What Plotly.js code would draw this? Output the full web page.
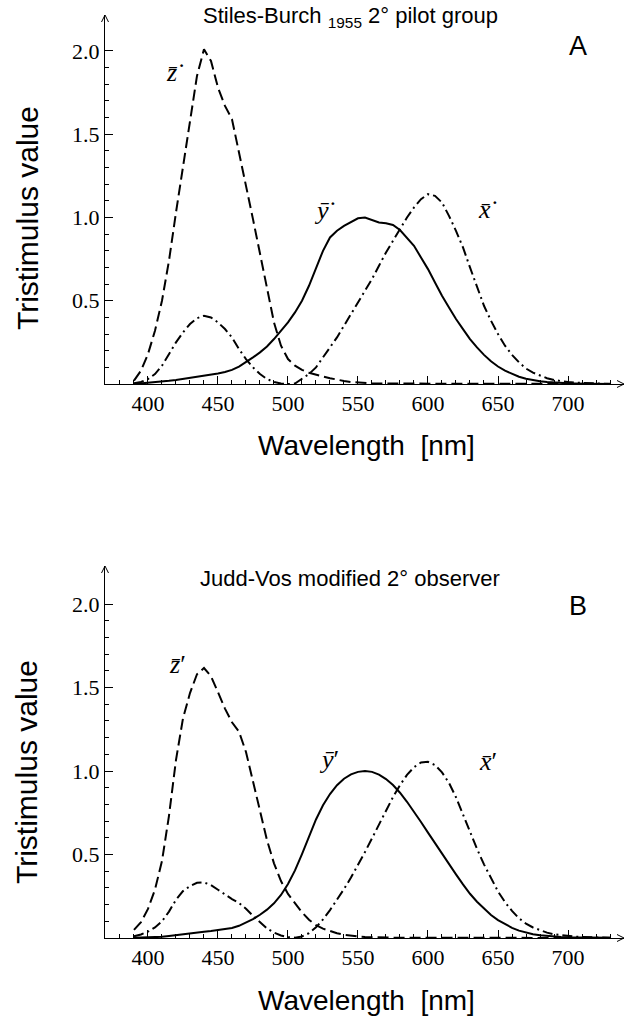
<!DOCTYPE html>
<html>
<head>
<meta charset="utf-8">
<script src="https://cdn.plot.ly/plotly-3.0.1.min.js"></script>
<style>html,body{margin:0;padding:0;background:#fff;}</style>
</head>
<body>
<div id="chart" style="width:629px;height:1025px;"></div>
<script>
// Wavelength grid (nm)
const wavelength = [390,395,400,405,410,415,420,425,430,435,440,445,450,455,460,465,470,475,480,485,490,495,500,
  505,510,515,520,525,530,535,540,545,550,555,560,565,570,575,580,585,590,595,600,605,610,615,620,625,630,635,640,
  645,650,655,660,665,670,675,680,685,690,695,700,705,710,715,720,725,730];

// Panel A: Stiles-Burch 1955 2° pilot group
const sbX = [0.005,0.012,0.03,0.06,0.11,0.18,0.25,0.31,0.36,0.395,0.41,0.40,0.37,0.33,0.28,0.21,0.15,0.10,0.06,0.03,0.012,0.003,0.0,
  0.003,0.03,0.06,0.10,0.16,0.22,0.28,0.35,0.42,0.49,0.56,0.63,0.71,0.79,0.86,0.93,1.0,1.06,1.11,1.14,1.13,1.09,1.01,0.92,0.82,0.70,0.58,0.47,
  0.38,0.30,0.23,0.175,0.13,0.093,0.068,0.05,0.035,0.024,0.017,0.012,0.008,0.006,0.004,0.003,0.002,0.001];
const sbY = [0.0,0.003,0.006,0.01,0.014,0.019,0.024,0.03,0.036,0.042,0.048,0.055,0.063,0.072,0.085,0.105,0.13,0.16,0.19,0.225,0.27,0.32,0.37,
  0.43,0.50,0.59,0.69,0.80,0.88,0.92,0.95,0.975,0.995,1.0,0.985,0.97,0.965,0.955,0.925,0.88,0.83,0.76,0.69,0.61,0.53,0.46,0.39,0.33,0.27,0.22,0.175,
  0.137,0.105,0.08,0.06,0.044,0.032,0.023,0.017,0.012,0.008,0.006,0.004,0.003,0.002,0.0015,0.001,0.0007,0.0005];
const sbZ = [0.02,0.08,0.18,0.32,0.50,0.74,1.03,1.31,1.59,1.85,2.01,1.94,1.78,1.67,1.59,1.40,1.19,0.99,0.78,0.57,0.37,0.23,0.15,
  0.11,0.085,0.068,0.055,0.045,0.035,0.025,0.018,0.012,0.008,0.006,0.004,0.003,0.003,0.002,0.002,0.001,0.001,0,0,0,0,0,0,0,0,0,0,
  0,0,0,0,0,0,0,0,0,0,0,0,0,0,0,0,0,0];

// Panel B: Judd-Vos modified 2° observer
const jvX = [0.011,0.021,0.038,0.063,0.100,0.158,0.229,0.281,0.311,0.331,0.333,0.317,0.289,0.260,0.233,0.210,0.175,0.133,0.092,0.057,0.032,0.015,0.005,
  0.002,0.009,0.029,0.064,0.111,0.167,0.228,0.293,0.362,0.436,0.515,0.597,0.681,0.764,0.844,0.916,0.977,1.023,1.051,1.055,1.036,0.992,0.929,0.843,0.740,0.633,0.534,0.441,
  0.355,0.279,0.215,0.162,0.118,0.086,0.063,0.046,0.032,0.022,0.016,0.011,0.008,0.006,0.004,0.003,0.002,0.001];
const jvY = [0.001,0.002,0.003,0.005,0.007,0.012,0.018,0.023,0.027,0.033,0.038,0.042,0.047,0.052,0.060,0.073,0.091,0.113,0.139,0.170,0.208,0.258,0.323,
  0.405,0.503,0.608,0.710,0.795,0.862,0.915,0.954,0.980,0.995,1.000,0.995,0.979,0.952,0.916,0.870,0.816,0.757,0.695,0.631,0.567,0.503,0.442,0.381,0.321,0.265,0.217,0.175,
  0.138,0.107,0.082,0.061,0.044,0.032,0.023,0.017,0.012,0.008,0.006,0.004,0.003,0.002,0.001,0.001,0.001,0.001];
const jvZ = [0.049,0.095,0.174,0.290,0.461,0.732,1.066,1.315,1.467,1.580,1.617,1.568,1.472,1.374,1.292,1.236,1.114,0.942,0.756,0.586,0.447,0.341,0.264,
  0.206,0.154,0.109,0.077,0.056,0.041,0.029,0.020,0.013,0.009,0.006,0.004,0.003,0.002,0.002,0.002,0.002,0.001,0.001,0.001,0.001,0,0,0,0,0,0,0,
  0,0,0,0,0,0,0,0,0,0,0,0,0,0,0,0,0,0];

// Tick labels
const xTickVals = [400,450,500,550,600,650,700];
const xTickText = ['400','450','500','550','600','650','700'];
const xMinorVals = [380,390,410,420,430,440,460,470,480,490,510,520,530,540,560,570,580,590,610,620,630,640,660,670,680,690,710,720,730];
const yTickVals = [0.5,1.0,1.5,2.0];
const yTickText = ['0.5','1.0','1.5','2.0'];
const yMinorVals = [0.1,0.2,0.3,0.4,0.6,0.7,0.8,0.9,1.1,1.2,1.3,1.4,1.6,1.7,1.8,1.9];

const panelTitles = ['Stiles-Burch <sub>1955</sub> 2° pilot group', 'Judd-Vos modified 2° observer'];
const panelLetters = ['A', 'B'];
const curveLabelsA = ['<i>x\u0304</i>\u02D9', '<i>y\u0304</i>\u02D9', '<i>z\u0304</i>\u02D9'];
const curveLabelsB = ['<i>x\u0304</i>\u2032', '<i>y\u0304</i>\u2032', '<i>z\u0304</i>\u2032'];
const yTitle = 'Tristimulus value';
const xTitle = 'Wavelength  [nm]';

// Geometry (pixels)
const W = 629, H = 1025;
const mL = 105, mR = 5, mT = 15, mB = 87;
const plotW = W - mL - mR, plotH = H - mT - mB;
const domA = [0.6002, 1], domB = [0, 0.403];
const xRange = [369.3, 740];

const lineW = 2;
const dashZ = '11px,5px';
const dashX = '10px,4px,2px,4px';

function tr(y, dash, xa, ya, name) {
  return {x: wavelength, y: y, type: 'scatter', mode: 'lines', name: name,
    line: {color: '#000', width: lineW, dash: dash}, xaxis: xa, yaxis: ya, hoverinfo: 'skip'};
}

const traces = [
  tr(sbZ, dashZ, 'x', 'y', 'z̄˙'),
  tr(sbX, dashX, 'x', 'y', 'x̄˙'),
  tr(sbY, 'solid', 'x', 'y', 'ȳ˙'),
  tr(jvZ, dashZ, 'x2', 'y2', 'z̄′'),
  tr(jvX, dashX, 'x2', 'y2', 'x̄′'),
  tr(jvY, 'solid', 'x2', 'y2', 'ȳ′')
];

const serif = 'Liberation Serif, Times New Roman, serif';
const sans = 'Liberation Sans, Arial, sans-serif';
function tickFont() { return {family: serif, size: 22, color: '#000'}; }
function xAxis(anchor) {
  return {anchor: anchor, range: xRange.slice(), showline: true, linecolor: '#000', linewidth: 1,
    ticks: 'inside', ticklen: 8, tickwidth: 1, tickcolor: '#000', tickmode: 'array',
    tickvals: xTickVals, ticktext: xTickText, tickfont: tickFont(), showgrid: false, zeroline: false,
    minor: {tickmode: 'array', tickvals: xMinorVals, ticks: 'inside', ticklen: 4, tickwidth: 1, tickcolor: '#000', showgrid: false},
    fixedrange: true};
}
function yAxis(anchor, domain, top) {
  return {anchor: anchor, domain: domain, range: [0, top], showline: true, linecolor: '#000', linewidth: 1,
    ticks: 'inside', ticklen: 8, tickwidth: 1, tickcolor: '#000', tickmode: 'array',
    tickvals: yTickVals, ticktext: yTickText, tickfont: tickFont(), showgrid: false, zeroline: false,
    minor: {tickmode: 'array', tickvals: yMinorVals, ticks: 'inside', ticklen: 4, tickwidth: 1, tickcolor: '#000', showgrid: false},
    fixedrange: true};
}

// pixel -> paper helpers for placing text
const px = v => (v - mL) / plotW;
const py = v => (H - mB - v) / plotH;
function txt(text, xPx, yPx, font, extra) {
  return Object.assign({text: text, xref: 'paper', yref: 'paper', x: px(xPx), y: py(yPx),
    xanchor: 'center', yanchor: 'middle', showarrow: false, font: font}, extra || {});
}
const labFont = {family: serif, size: 26, color: '#000'};
function lab(text, xa, ya, x, y) {
  return {text: text, xref: xa, yref: ya, x: x, y: y, xanchor: 'center', yanchor: 'middle', showarrow: false, font: labFont};
}

const annotations = [
  txt(panelTitles[0], 350, 17, {family: sans, size: 22, color: '#000'}),
  txt(panelTitles[1], 350, 578, {family: sans, size: 22, color: '#000'}),
  txt(panelLetters[0], 578, 46, {family: sans, size: 27, color: '#000'}),
  txt(panelLetters[1], 578, 606, {family: sans, size: 27, color: '#000'}),
  txt(yTitle, 27, 218, {family: sans, size: 30, color: '#000'}, {textangle: -90}),
  txt(yTitle, 27, 772, {family: sans, size: 30, color: '#000'}, {textangle: -90}),
  txt(xTitle, 366, 446, {family: sans, size: 28, color: '#000'}),
  txt(xTitle, 366, 1000, {family: sans, size: 28, color: '#000'}),
  lab(curveLabelsA[2], 'x', 'y', 420, 1.87),
  lab(curveLabelsA[1], 'x', 'y', 527, 1.045),
  lab(curveLabelsA[0], 'x', 'y', 643, 1.05),
  lab(curveLabelsB[2], 'x2', 'y2', 421, 1.64),
  lab(curveLabelsB[1], 'x2', 'y2', 529, 1.07),
  lab(curveLabelsB[0], 'x2', 'y2', 643, 1.06)
];

// Axis arrowheads (open chevrons) at the ends of the axis lines, in paper units
const aLen = 7, aHalf = 3.5;
function xArrow(y0) {
  const dx = aLen / plotW, dy = aHalf / plotH;
  return {type: 'path', xref: 'paper', yref: 'paper', line: {color: '#000', width: 1},
    path: `M${1 - dx},${y0 + dy} L1,${y0} L${1 - dx},${y0 - dy}`};
}
function yArrow(y1) {
  const dx = aHalf / plotW, dy = aLen / plotH;
  return {type: 'path', xref: 'paper', yref: 'paper', line: {color: '#000', width: 1},
    path: `M${-dx},${y1 - dy} L0,${y1} L${dx},${y1 - dy}`};
}
const shapes = [xArrow(domA[0]), yArrow(domA[1]), xArrow(domB[0]), yArrow(domB[1])];

const layout = {
  width: W, height: H,
  margin: {l: mL, r: mR, t: mT, b: mB},
  font: {family: serif, color: '#000'},
  paper_bgcolor: '#fff', plot_bgcolor: '#fff',
  showlegend: false,
  xaxis: xAxis('y'),
  yaxis: yAxis('x', domA, 2.216),
  xaxis2: xAxis('y2'),
  yaxis2: yAxis('x2', domB, 2.228),
  annotations: annotations,
  shapes: shapes
};

Plotly.newPlot('chart', traces, layout, {displayModeBar: false, staticPlot: true});
</script>
</body>
</html>
